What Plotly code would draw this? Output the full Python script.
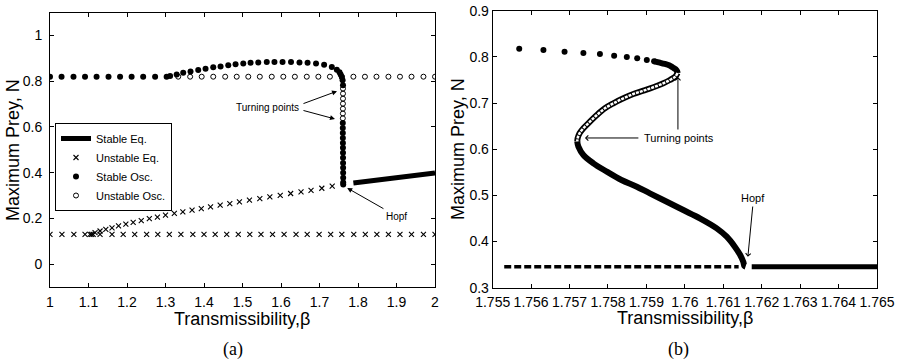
import plotly.graph_objects as go

# ---------------- Panel (a) data ----------------
a_stable_eq_beta = [1.788, 2.0]
a_stable_eq_n = [0.355, 0.399]

a_unstable_eq_beta = [1.000, 1.031, 1.062, 1.091, 1.104, 1.108, 1.112, 1.130, 1.161, 1.190, 1.220, 1.251,
                      1.280, 1.310, 1.340, 1.371, 1.400, 1.429, 1.459, 1.489, 1.519, 1.548, 1.578,
                      1.608, 1.639, 1.668, 1.699, 1.729, 1.758, 1.789, 1.819, 1.849, 1.879, 1.909,
                      1.939, 1.970, 2.000,
                      1.117, 1.130, 1.145, 1.161, 1.178, 1.197, 1.216, 1.237, 1.258, 1.279, 1.300,
                      1.323, 1.345, 1.369, 1.393, 1.417, 1.442, 1.467, 1.492, 1.518, 1.545, 1.571,
                      1.598, 1.625, 1.652, 1.678, 1.706, 1.733]
a_unstable_eq_n = [0.13] * 37 + [0.138, 0.145, 0.152, 0.159, 0.167, 0.175, 0.183, 0.190, 0.199, 0.206,
                                 0.214, 0.222, 0.229, 0.236, 0.243, 0.251, 0.258, 0.265, 0.272, 0.280,
                                 0.287, 0.294, 0.301, 0.309, 0.316, 0.323, 0.332, 0.341]

a_stable_osc_beta = [1.000, 1.030, 1.061, 1.091, 1.121, 1.152, 1.182, 1.212, 1.242, 1.273, 1.303,
                     1.312, 1.329, 1.346, 1.365, 1.385, 1.404, 1.424, 1.443, 1.463, 1.482, 1.502,
                     1.521, 1.541, 1.563, 1.583, 1.604, 1.626, 1.648, 1.669, 1.691, 1.712, 1.732,
                     1.745, 1.752, 1.755, 1.758, 1.760, 1.761,
                     1.7605, 1.7605, 1.7606, 1.7607, 1.7608, 1.7609, 1.7610, 1.7611, 1.7612, 1.7613,
                     1.7614, 1.7615, 1.7615, 1.7616]
a_stable_osc_n = [0.82] * 11 + [0.823, 0.830, 0.837, 0.843, 0.849, 0.855, 0.861, 0.865, 0.870, 0.874,
                                0.878, 0.881, 0.882, 0.884, 0.884, 0.884, 0.884, 0.882, 0.881, 0.878,
                                0.872, 0.862, 0.850, 0.840, 0.830, 0.819, 0.805, 0.783,
                                0.617, 0.596, 0.574, 0.552, 0.530, 0.509, 0.487, 0.465, 0.443, 0.422,
                                0.400, 0.378, 0.357, 0.348]

a_unstable_osc_beta = [1.333, 1.364, 1.394, 1.424, 1.455, 1.485, 1.515, 1.545, 1.576, 1.606, 1.636,
                       1.667, 1.697, 1.727, 1.758, 1.788, 1.818, 1.848, 1.879, 1.909, 1.939, 1.970,
                       2.000,
                       1.7610, 1.7610, 1.7610, 1.7609, 1.7608, 1.7607, 1.7606]
a_unstable_osc_n = [0.82] * 23 + [0.768, 0.746, 0.724, 0.702, 0.680, 0.659, 0.638]

# ---------------- Panel (b) data ----------------
b_stable_osc_sparse_beta = [1.75569, 1.75632, 1.75687, 1.75736, 1.75779, 1.75816, 1.75849, 1.75876,
                            1.75901, 1.75920]
b_stable_osc_sparse_n = [0.8177, 0.8149, 0.8112, 0.8084, 0.8062, 0.8025, 0.7997, 0.7969, 0.7932, 0.7904]

b_stable_osc_upper_beta = [1.75920, 1.75935, 1.75948, 1.75959, 1.75968, 1.75976, 1.75980, 1.75981]
b_stable_osc_upper_n = [0.7904, 0.7874, 0.7846, 0.7817, 0.7774, 0.7731, 0.7688, 0.7650]

b_unstable_osc_beta = [1.75981, 1.75975, 1.75961, 1.75944, 1.75918, 1.75892, 1.75866, 1.75840, 1.75814,
                       1.75792, 1.75771, 1.75753, 1.75736, 1.75726, 1.75721, 1.75720]
b_unstable_osc_n = [0.7650, 0.7571, 0.7499, 0.7427, 0.7341, 0.7267, 0.7196, 0.7102, 0.6994, 0.6886,
                    0.6741, 0.6596, 0.6452, 0.6344, 0.6236, 0.6163]

b_stable_osc_lower_beta = [1.75720, 1.75723, 1.75736, 1.75762, 1.75797, 1.75835, 1.75875, 1.75909,
                           1.75953, 1.75996, 1.76039, 1.76083, 1.76109, 1.76130, 1.76144, 1.76152,
                           1.76155, 1.76158]
b_stable_osc_lower_n = [0.6163, 0.6054, 0.5874, 0.5694, 0.5513, 0.5333, 0.5188, 0.5044, 0.4863, 0.4682,
                        0.4503, 0.4286, 0.4105, 0.3888, 0.3708, 0.3563, 0.3470, 0.3455]

b_unstable_eq_beta = [1.7553, 1.7614]
b_unstable_eq_n = [0.3455, 0.3455]
b_stable_eq_beta = [1.76174, 1.765]
b_stable_eq_n = [0.3455, 0.3455]

# ticks
a_xticks = [1, 1.1, 1.2, 1.3, 1.4, 1.5, 1.6, 1.7, 1.8, 1.9, 2]
a_xticklabels = ["1", "1.1", "1.2", "1.3", "1.4", "1.5", "1.6", "1.7", "1.8", "1.9", "2"]
a_yticks = [0, 0.2, 0.4, 0.6, 0.8, 1]
a_yticklabels = ["0", "0.2", "0.4", "0.6", "0.8", "1"]
b_xticks = [1.755, 1.756, 1.757, 1.758, 1.759, 1.760, 1.761, 1.762, 1.763, 1.764, 1.765]
b_xticklabels = ["1.755", "1.756", "1.757", "1.758", "1.759", "1.76", "1.761", "1.762", "1.763",
                 "1.764", "1.765"]
b_yticks = [0.3, 0.4, 0.5, 0.6, 0.7, 0.8, 0.9]
b_yticklabels = ["0.3", "0.4", "0.5", "0.6", "0.7", "0.8", "0.9"]

FONT = "Liberation Sans, Arial, Helvetica, sans-serif"
SERIF = "Liberation Serif, Times New Roman, serif"

fig = go.Figure()

# Panel (a)
fig.add_trace(go.Scatter(x=a_stable_eq_beta, y=a_stable_eq_n, mode="lines", name="Stable Eq.",
                         line=dict(color="black", width=5), xaxis="x", yaxis="y"))
fig.add_trace(go.Scatter(x=a_unstable_eq_beta, y=a_unstable_eq_n, mode="markers", name="Unstable Eq.",
                         marker=dict(symbol="x-thin", size=5, line=dict(color="black", width=1.1)),
                         xaxis="x", yaxis="y"))
fig.add_trace(go.Scatter(x=a_stable_osc_beta, y=a_stable_osc_n, mode="markers", name="Stable Osc.",
                         marker=dict(symbol="circle", size=6, color="black"), xaxis="x", yaxis="y"))
fig.add_trace(go.Scatter(x=a_unstable_osc_beta, y=a_unstable_osc_n, mode="markers", name="Unstable Osc.",
                         marker=dict(symbol="circle-open", size=5, color="black", line=dict(width=1)),
                         xaxis="x", yaxis="y"))

# Panel (b)
fig.add_trace(go.Scatter(x=b_unstable_eq_beta, y=b_unstable_eq_n, mode="lines", showlegend=False,
                         line=dict(color="black", width=3.5, dash="7px,3px"), xaxis="x2", yaxis="y2"))
fig.add_trace(go.Scatter(x=b_stable_eq_beta, y=b_stable_eq_n, mode="lines", showlegend=False,
                         line=dict(color="black", width=5), xaxis="x2", yaxis="y2"))
fig.add_trace(go.Scatter(x=b_stable_osc_sparse_beta, y=b_stable_osc_sparse_n, mode="markers",
                         showlegend=False, marker=dict(symbol="circle", size=6, color="black"),
                         xaxis="x2", yaxis="y2"))
fig.add_trace(go.Scatter(x=b_stable_osc_upper_beta, y=b_stable_osc_upper_n, mode="lines",
                         showlegend=False, line=dict(color="black", width=6, shape="spline"),
                         xaxis="x2", yaxis="y2"))
fig.add_trace(go.Scatter(x=b_unstable_osc_beta, y=b_unstable_osc_n, mode="lines",
                         showlegend=False, line=dict(color="black", width=6, shape="spline"),
                         xaxis="x2", yaxis="y2"))
fig.add_trace(go.Scatter(x=b_unstable_osc_beta, y=b_unstable_osc_n, mode="lines",
                         showlegend=False, line=dict(color="white", width=2.5, shape="spline", dash="3px,1px"),
                         xaxis="x2", yaxis="y2"))
fig.add_trace(go.Scatter(x=b_stable_osc_lower_beta, y=b_stable_osc_lower_n, mode="lines",
                         showlegend=False, line=dict(color="black", width=6, shape="spline"),
                         xaxis="x2", yaxis="y2"))

axis_common = dict(showline=True, linecolor="black", linewidth=1, mirror="ticks", ticks="inside",
                   ticklen=4, tickwidth=1, tickcolor="black", showgrid=False, zeroline=False,
                   automargin=False, tickangle=0,
                   tickfont=dict(family=FONT, size=14, color="black"))

fig.update_layout(
    template="none",
    width=898, height=359,
    margin=dict(l=0, r=0, t=0, b=0, autoexpand=False),
    paper_bgcolor="white", plot_bgcolor="white",
    font=dict(family=FONT, color="black"),
    xaxis=dict(domain=[50 / 898, 435 / 898], range=[1, 2], tickvals=a_xticks, ticktext=a_xticklabels,
               anchor="y", ticklabelstandoff=2, **axis_common),
    yaxis=dict(domain=[(359 - 287) / 359, (359 - 12.7) / 359], range=[-0.1, 1.1], tickvals=a_yticks,
               ticktext=a_yticklabels, anchor="x", ticklabelstandoff=4, **axis_common),
    xaxis2=dict(domain=[492.7 / 898, 877 / 898], range=[1.755, 1.765], tickvals=b_xticks,
                ticktext=b_xticklabels, anchor="y2", ticklabelstandoff=1, **axis_common),
    yaxis2=dict(domain=[(359 - 287.7) / 359, (359 - 10.7) / 359], range=[0.3, 0.9], tickvals=b_yticks,
                ticktext=b_yticklabels, anchor="x2", ticklabelstandoff=0, **axis_common),
    legend=dict(x=55 / 898, y=(359 - 123) / 359, xanchor="left", yanchor="top",
                bgcolor="white", bordercolor="black", borderwidth=1,
                font=dict(family=FONT, size=11, color="black"), tracegroupgap=0,
                itemwidth=30),
    showlegend=True,
)

ann = []
# axis titles
ann.append(dict(text="Transmissibility,β", xref="paper", yref="paper", x=242.5 / 898, y=(359 - 319) / 359,
                showarrow=False, font=dict(family=FONT, size=18), xanchor="center", yanchor="middle"))
ann.append(dict(text="Transmissibility,β", xref="paper", yref="paper", x=684.9 / 898, y=(359 - 318) / 359,
                showarrow=False, font=dict(family=FONT, size=18), xanchor="center", yanchor="middle"))
ann.append(dict(text="Maximum Prey, N", xref="paper", yref="paper", x=13 / 898, y=(359 - 150) / 359,
                showarrow=False, textangle=-90, font=dict(family=FONT, size=18),
                xanchor="center", yanchor="middle"))
ann.append(dict(text="Maximum Prey, N", xref="paper", yref="paper", x=458 / 898, y=(359 - 149) / 359,
                showarrow=False, textangle=-90, font=dict(family=FONT, size=18),
                xanchor="center", yanchor="middle"))
ann.append(dict(text="(a)", xref="paper", yref="paper", x=233 / 898, y=(359 - 349) / 359,
                showarrow=False, font=dict(family=SERIF, size=18), xanchor="center", yanchor="middle"))
ann.append(dict(text="(b)", xref="paper", yref="paper", x=678 / 898, y=(359 - 349) / 359,
                showarrow=False, font=dict(family=SERIF, size=18), xanchor="center", yanchor="middle"))

# panel (a) labels and arrows
ann.append(dict(text="Turning points", xref="x", yref="y", x=1.566, y=0.687, showarrow=False,
                font=dict(family=FONT, size=10), xanchor="center", yanchor="middle"))
ann.append(dict(text="", xref="x", yref="y", axref="x", ayref="y", x=1.7455, y=0.7565, ax=1.6545, ay=0.700,
                showarrow=True, arrowhead=2, arrowsize=1, arrowwidth=1, arrowcolor="black"))
ann.append(dict(text="", xref="x", yref="y", axref="x", ayref="y", x=1.7403, y=0.635, ax=1.6545, ay=0.674,
                showarrow=True, arrowhead=2, arrowsize=1, arrowwidth=1, arrowcolor="black"))
ann.append(dict(text="Hopf", xref="x", yref="y", x=1.9005, y=0.210, showarrow=False,
                font=dict(family=FONT, size=10), xanchor="center", yanchor="middle"))
ann.append(dict(text="", xref="x", yref="y", axref="x", ayref="y", x=1.772, y=0.333, ax=1.870, ay=0.239,
                showarrow=True, arrowhead=2, arrowsize=1, arrowwidth=1, arrowcolor="black"))

# panel (b) labels and arrows
ann.append(dict(text="Turning points", xref="x2", yref="y2", x=1.75985, y=0.6243, showarrow=False,
                font=dict(family=FONT, size=11), xanchor="center", yanchor="middle"))
ann.append(dict(text="", xref="x2", yref="y2", axref="x2", ayref="y2", x=1.7574, y=0.6243, ax=1.75883,
                ay=0.6243, showarrow=True, arrowhead=4, arrowsize=1, arrowwidth=1, arrowcolor="black"))
ann.append(dict(text="", xref="x2", yref="y2", axref="x2", ayref="y2", x=1.75982, y=0.7564, ax=1.75982,
                ay=0.6394, showarrow=True, arrowhead=4, arrowsize=1, arrowwidth=1, arrowcolor="black"))
ann.append(dict(text="Hopf", xref="x2", yref="y2", x=1.76178, y=0.4943, showarrow=False,
                font=dict(family=FONT, size=11), xanchor="center", yanchor="middle"))
ann.append(dict(text="", xref="x2", yref="y2", axref="x2", ayref="y2", x=1.76164, y=0.3671, ax=1.76177,
                ay=0.4791, showarrow=True, arrowhead=4, arrowsize=1, arrowwidth=1, arrowcolor="black"))

fig.update_layout(annotations=ann)

fig.write_html("out.html")
